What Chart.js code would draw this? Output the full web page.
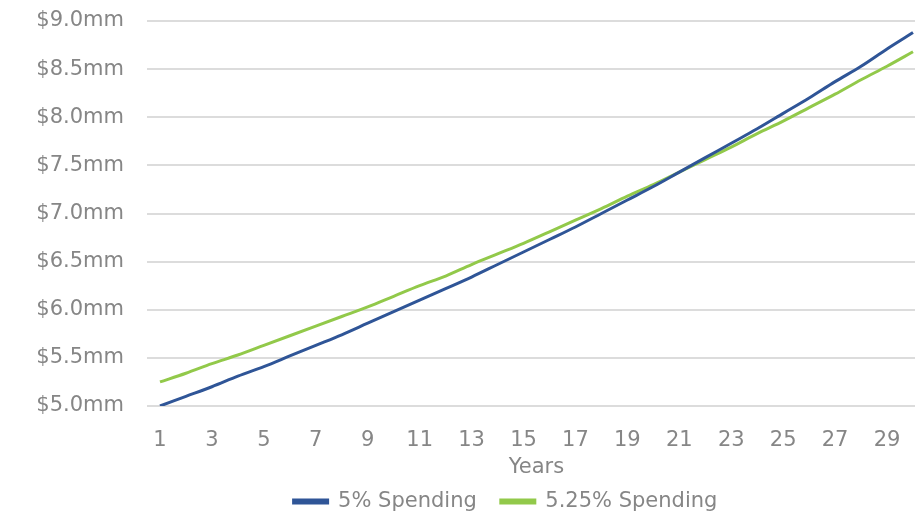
<!DOCTYPE html>
<html>
<head>
<meta charset="utf-8">
<script src="https://cdn.jsdelivr.net/npm/chart.js@4/dist/chart.umd.min.js"></script>
<style>
  html, body { margin: 0; padding: 0; background: #ffffff; overflow: hidden; }
  #wrap { position: relative; width: 927px; height: 515px; }
</style>
</head>
<body>
<div id="wrap"><canvas id="growthChart"></canvas></div>
<script>
// portfolio value by year, in $ millions
const years = [1, 2, 3, 4, 5, 6, 7, 8, 9, 10, 11, 12, 13, 14, 15,
               16, 17, 18, 19, 20, 21, 22, 23, 24, 25, 26, 27, 28, 29, 30];
const spending5 = [5.00, 5.10, 5.20, 5.31, 5.41, 5.52, 5.63, 5.74, 5.86, 5.98,
                   6.10, 6.22, 6.34, 6.47, 6.60, 6.73, 6.86, 7.00, 7.14, 7.28,
                   7.43, 7.58, 7.73, 7.88, 8.04, 8.20, 8.37, 8.53, 8.71, 8.88];
const spending525 = [5.25, 5.34, 5.44, 5.53, 5.63, 5.73, 5.83, 5.93, 6.03, 6.14,
                     6.25, 6.35, 6.47, 6.58, 6.69, 6.81, 6.93, 7.05, 7.18, 7.30,
                     7.43, 7.56, 7.69, 7.83, 7.96, 8.10, 8.24, 8.39, 8.53, 8.68];
const seriesNames = ['5% Spending', '5.25% Spending'];

const textColor = '#868686';
const gridColor = '#dcdcdc';
const font = { family: "'DejaVu Sans', sans-serif", size: 21 };

// nudge the legend so it sits under the plot rather than the whole canvas
const legendShift = {
    id: 'legendShift',
    afterLayout(chart) {
        const lg = chart.legend;
        lg.left += 42; lg.right += 42;
        lg.top += 7; lg.bottom += 7;
    }
};

const ctx = document.getElementById('growthChart').getContext('2d');
const chart = new Chart(ctx, {
    type: 'line',
    data: {
        labels: years,
        datasets: [{
            label: seriesNames[0],
            data: spending5,
            borderColor: '#2f5597',
            backgroundColor: '#2f5597',
            borderWidth: 3,
            pointRadius: 0,
            cubicInterpolationMode: 'monotone'
        }, {
            label: seriesNames[1],
            data: spending525,
            borderColor: '#92c94a',
            backgroundColor: '#92c94a',
            borderWidth: 3,
            pointRadius: 0,
            cubicInterpolationMode: 'monotone'
        }]
    },
    plugins: [legendShift],
    options: {
        responsive: true,
        maintainAspectRatio: false,
        animation: false,
        layout: { padding: { top: 21, right: 0, bottom: 0, left: 0 } },
        plugins: {
            tooltip: { enabled: false },
            legend: {
                position: 'bottom',
                labels: {
                    color: textColor,
                    font: font,
                    boxWidth: 34,
                    boxHeight: 3,
                    padding: 4,
                    // a little extra room between the two entries
                    generateLabels: c => Chart.defaults.plugins.legend.labels.generateLabels(c)
                        .map((item, i) => Object.assign(item, { text: i === 0 ? item.text + '   ' : item.text }))
                }
            }
        },
        scales: {
            x: {
                offset: true,
                grid: { display: false },
                border: { display: false },
                ticks: {
                    color: textColor,
                    font: font,
                    maxRotation: 0,
                    autoSkip: false,
                    padding: 14,
                    callback: function (val, i) { return i % 2 === 0 ? years[i] : ''; }
                },
                title: {
                    display: true,
                    text: 'Years',
                    color: textColor,
                    font: font,
                    padding: { top: 0, bottom: 0 }
                },
                afterFit: scale => { scale.height = 74; }
            },
            y: {
                min: 5.0,
                max: 9.0,
                grid: { color: gridColor, lineWidth: 2, drawTicks: false },
                border: { display: false },
                ticks: {
                    stepSize: 0.5,
                    color: textColor,
                    font: font,
                    padding: 23,
                    callback: v => '$' + v.toFixed(1) + 'mm'
                },
                afterFit: scale => {
                    scale.width = 147;
                    scale.paddingTop = 0;
                    scale.paddingBottom = 0;
                }
            }
        }
    }
});
</script>
</body>
</html>
